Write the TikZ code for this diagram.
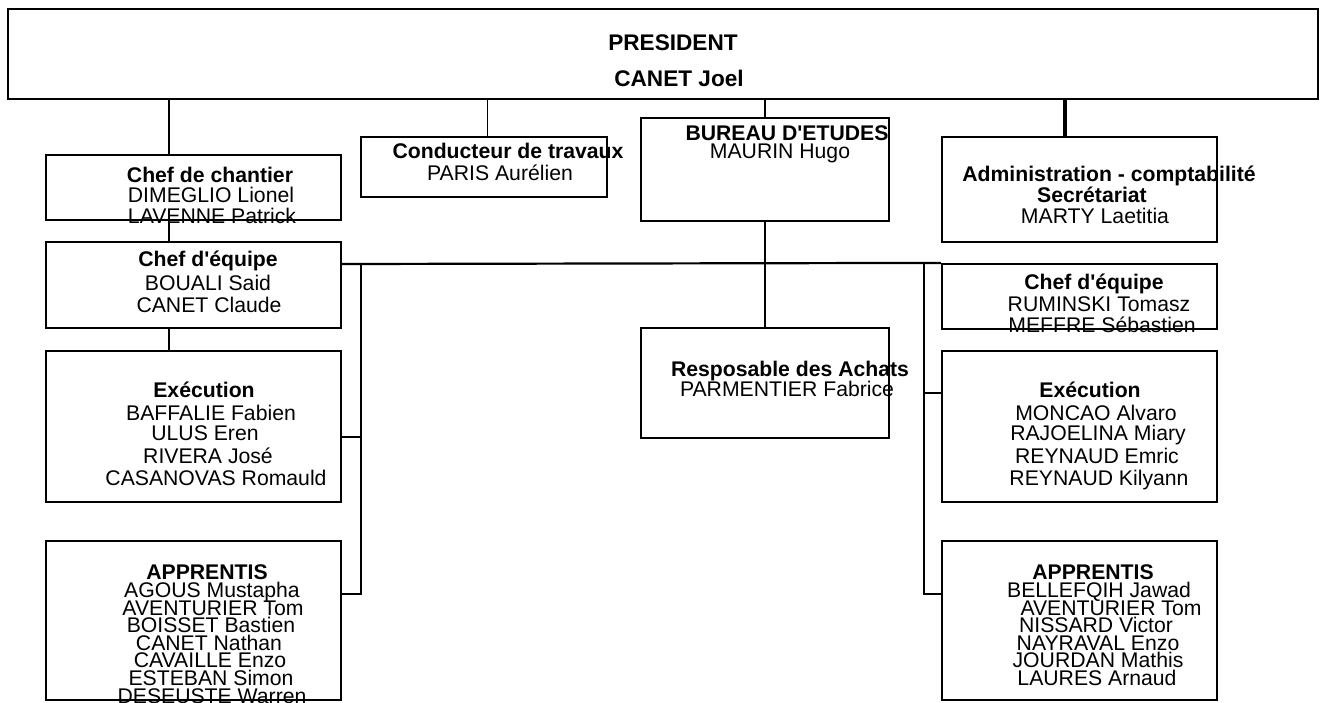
\documentclass[tikz,border=0pt]{standalone}
\usepackage{fontspec}
\setmainfont{Liberation Sans}[Ligatures=TeXOff]
\begin{document}
\begin{tikzpicture}[x=0.5pt,y=-0.5pt,
  box/.style={draw, line width=1.1pt, rectangle, inner sep=0pt},
  conn/.style={line width=1.1pt},
  nm/.style={anchor=base, inner sep=0pt, font=\fontsize{10.6}{12}\selectfont},
  hd/.style={anchor=base, inner sep=0pt, font=\fontsize{10.6}{12}\selectfont\bfseries},
  pr/.style={anchor=base, inner sep=0pt, font=\fontsize{11.3}{13}\selectfont\bfseries}]
\useasboundingbox (0,0) rectangle (1325,702);

% boxes
\node[box, minimum width=655pt, minimum height=45pt] (pres) at (663,54) {};
\node[box, minimum width=147.5pt, minimum height=32.5pt] (cc) at (193.5,187.5) {};
\node[box, minimum width=147.5pt, minimum height=43pt] (ceL) at (193.5,285) {};
\node[box, minimum width=147.5pt, minimum height=75.5pt] (exL) at (193.5,426.5) {};
\node[box, minimum width=147.5pt, minimum height=79.5pt] (apL) at (193.5,620.5) {};
\node[box, minimum width=123pt, minimum height=30pt] (cond) at (484,167) {};
\node[box, minimum width=124pt, minimum height=51.5pt] (bur) at (765,169.5) {};
\node[box, minimum width=124pt, minimum height=55pt] (ach) at (765,383) {};
\node[box, minimum width=137.5pt, minimum height=52.5pt] (adm) at (1079.5,189.5) {};
\node[box, minimum width=137.5pt, minimum height=32.5pt] (ceR) at (1079.5,296.5) {};
\node[box, minimum width=137.5pt, minimum height=75.5pt] (exR) at (1079.5,426.5) {};
\node[box, minimum width=137.5pt, minimum height=79.5pt] (apR) at (1079.5,620.5) {};

% helper coordinates
\coordinate (xL) at (169,0);
\coordinate (xC) at (487,0);
\coordinate (xA) at (1065,0);
\coordinate (busL) at (361,264);
\coordinate (busR) at (924,264);
\coordinate (yApp) at (0,594);
\coordinate (yExL) at (0,437);
\coordinate (yExR) at (0,393);

% connectors
\draw[conn] (pres.south -| xL) -- (cc.north -| xL);
\draw[conn] (cc.south -| xL) -- (ceL.north -| xL);
\draw[conn] (ceL.south -| xL) -- (exL.north -| xL);
\draw[line width=0.4pt] (pres.south -| xC) -- (cond.north -| xC);
\draw[conn] (pres.south -| bur.north) -- (bur.north);
\draw[conn] (bur.south) -- (ach.north);
\draw[line width=1.8pt] (pres.south -| xA) -- (adm.north -| xA);
\draw[conn] (ceL.east |- busL) -- (ceR.north west);
\draw[conn] (busL) -- (busL |- yApp) -- (apL.east |- yApp);
\draw[conn] (exL.east |- yExL) -- (busL |- yExL);
\draw[conn] (busR) -- (busR |- yApp) -- (apR.west |- yApp);
\draw[conn] (exR.west |- yExR) -- (busR |- yExR);

% president
\node[pr] (t0a) at (673,50) {PRESIDENT};
\node[pr] (t0b) at (679,86) {CANET Joel};

% chef de chantier
\node[hd] (t1a) at (210,182) {Chef de chantier};
\node[nm] (t1b) at (211,202) {DIMEGLIO Lionel};
\node[nm] (t1c) at (212,223.5) {LAVENNE Patrick};

% chef d'equipe left
\node[hd] (t2a) at (208,266.5) {Chef d'équipe};
\node[nm] (t2b) at (208,290) {BOUALI Said};
\node[nm] (t2c) at (209,312) {CANET Claude};

% execution left
\node[hd] (t3a) at (204,397) {Exécution};
\node[nm] (t3b) at (211,420.5) {BAFFALIE Fabien};
\node[nm] (t3c) at (205,440.5) {ULUS Eren};
\node[nm] (t3d) at (208,463.5) {RIVERA José};
\node[nm] (t3e) at (216,485) {CASANOVAS Romauld};

% apprentis left
\node[hd] (t4a) at (207,579) {APPRENTIS};
\node[nm] (t4b) at (212,597) {AGOUS Mustapha};
\node[nm] (t4c) at (213,615.5) {AVENTURIER Tom};
\node[nm] (t4d) at (211,632.5) {BOISSET Bastien};
\node[nm] (t4e) at (209,650) {CANET Nathan};
\node[nm] (t4f) at (210,667.5) {CAVAILLE Enzo};
\node[nm] (t4g) at (211,685) {ESTEBAN Simon};
\node[nm] (t4h) at (212,703) {DESEUSTE Warren};

% conducteur
\node[hd] (t5a) at (508,158.5) {Conducteur de travaux};
\node[nm] (t5b) at (500,180.5) {PARIS Aurélien};

% bureau d'etudes
\node[hd] (t6a) at (787,140) {BUREAU D'ETUDES};
\node[nm] (t6b) at (780,158.5) {MAURIN Hugo};

% achats
\node[hd] (t7a) at (790,376) {Resposable des Achats};
\node[nm] (t7b) at (787,396) {PARMENTIER Fabrice};

% administration
\node[hd] (t8a) at (1109,181.5) {Administration - comptabilité};
\node[hd] (t8b) at (1092,202) {Secrétariat};
\node[nm] (t8c) at (1095,223.5) {MARTY Laetitia};

% chef d'equipe right
\node[hd] (t9a) at (1094,289) {Chef d'équipe};
\node[nm] (t9b) at (1099,311.5) {RUMINSKI Tomasz};
\node[nm] (t9c) at (1102,332) {MEFFRE Sébastien};

% execution right
\node[hd] (t10a) at (1090,397) {Exécution};
\node[nm] (t10b) at (1096,420.5) {MONCAO Alvaro};
\node[nm] (t10c) at (1098,440.5) {RAJOELINA Miary};
\node[nm] (t10d) at (1097,463.5) {REYNAUD Emric};
\node[nm] (t10e) at (1099,485) {REYNAUD Kilyann};

% apprentis right
\node[hd] (t11a) at (1093,579) {APPRENTIS};
\node[nm] (t11b) at (1099,597) {BELLEFQIH Jawad};
\node[nm] (t11c) at (1111,615.5) {AVENTURIER Tom};
\node[nm] (t11d) at (1096,632.5) {NISSARD Victor};
\node[nm] (t11e) at (1098,650) {NAYRAVAL Enzo};
\node[nm] (t11f) at (1098,667.5) {JOURDAN Mathis};
\node[nm] (t11g) at (1097,685) {LAURES Arnaud};
\end{tikzpicture}
\end{document}
